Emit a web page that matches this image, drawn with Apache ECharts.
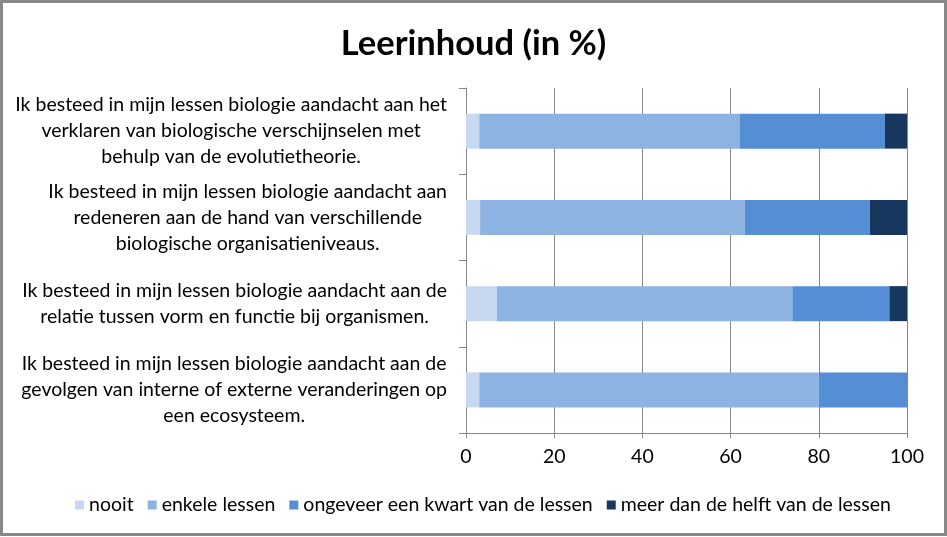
<!DOCTYPE html>
<html>
<head>
<meta charset="utf-8">
<script src="https://cdn.jsdelivr.net/npm/echarts@6/dist/echarts.min.js"></script>
<style>
html,body{margin:0;padding:0;background:#fff;}
#chart{width:947px;height:537px;}
</style>
</head>
<body>
<div id="chart"></div>
<script>
// Categories, bottom to top (as drawn by the category axis)
var categories = [
  'Ik besteed in mijn lessen biologie aandacht aan de\ngevolgen van interne of externe veranderingen op\neen ecosysteem.',
  'Ik besteed in mijn lessen biologie aandacht aan de\nrelatie tussen vorm en functie bij organismen.',
  'Ik besteed in mijn lessen biologie aandacht aan\nredeneren aan de hand van verschillende\nbiologische organisatieniveaus.',
  'Ik besteed in mijn lessen biologie aandacht aan het\nverklaren van biologische verschijnselen met\nbehulp van de evolutietheorie.'
];
var seriesNames = ['nooit', 'enkele lessen', 'ongeveer een kwart van de lessen', 'meer dan de helft van de lessen'];
var nooit  = [3, 7, 3.2, 3];
var enkele = [77, 67, 60, 59];
var kwart  = [20, 22, 28.4, 33];
var meer   = [0, 4, 8.4, 5];
var xTicks = [0, 20, 40, 60, 80, 100];

var colors = ['#C6D9F1', '#8DB3E2', '#558ED5', '#17375E'];
var FONT = 'Lato';
var values = [nooit, enkele, kwart, meer];

var chart = echarts.init(document.getElementById('chart'), null, {renderer: 'canvas'});
chart.setOption({
  animation: false,
  color: colors,
  textStyle: {fontFamily: FONT, color: '#000'},
  title: {
    text: 'Leerinhoud (in %)',
    left: 'center',
    top: 21,
    textStyle: {fontFamily: FONT, fontWeight: 'bold', fontSize: 34.5, color: '#000'}
  },
  graphic: [{
    type: 'rect',
    shape: {x: 1.5, y: 1.5, width: 944, height: 533},
    style: {fill: 'none', stroke: '#888888', lineWidth: 3},
    silent: true
  }],
  legend: {
    top: 490,
    left: 70,
    itemWidth: 9,
    itemHeight: 9,
    itemGap: 14,
    icon: 'rect',
    textStyle: {fontFamily: FONT, fontSize: 19.5, color: '#000'},
    data: seriesNames
  },
  grid: {left: 466, right: 40, top: 88, bottom: 104, containLabel: false},
  xAxis: {
    type: 'value',
    min: 0,
    max: 100,
    interval: 20,
    axisLine: {show: true, lineStyle: {color: '#868686'}},
    axisTick: {show: true, length: 5, lineStyle: {color: '#868686'}},
    splitLine: {show: true, lineStyle: {color: '#868686', width: 1}},
    axisLabel: {fontFamily: FONT, fontSize: 19.5, color: '#000', margin: 14,
      formatter: function (v) { return xTicks.indexOf(v) >= 0 ? String(v) : ''; }}
  },
  yAxis: {
    type: 'category',
    data: categories,
    axisLine: {show: true, lineStyle: {color: '#868686'}},
    axisTick: {show: true, length: 7, lineStyle: {color: '#868686'}},
    axisLabel: {
      margin: 19,
      align: 'right',
      formatter: function (v) { return '{c|' + v + '}'; },
      rich: {c: {fontFamily: FONT, fontSize: 19.5, lineHeight: 26, color: '#000', align: 'center'}}
    }
  },
  series: values.map(function (arr, i) {
    return {
      name: seriesNames[i],
      type: 'bar',
      stack: 'total',
      barWidth: 35,
      data: arr,
      itemStyle: {color: colors[i]}
    };
  })
});
</script>
</body>
</html>
